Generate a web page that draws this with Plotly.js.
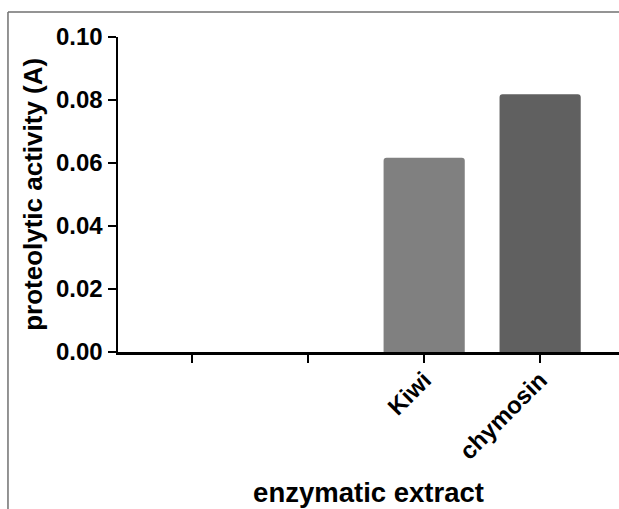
<!DOCTYPE html>
<html>
<head>
<meta charset="utf-8">
<script src="https://cdn.plot.ly/plotly-3.0.1.min.js"></script>
<style>html,body{margin:0;padding:0;background:#fff;}#chart{width:619px;height:509px;}</style>
</head>
<body>
<div id="chart"></div>
<script>
var categories = ["", "", "Kiwi", "chymosin"];
var activity = [null, null, 0.0617, 0.0818];
var barColors = ["#808080", "#808080", "#808080", "#606060"];
var yTickValues = [0, 0.02, 0.04, 0.06, 0.08, 0.10];
var xTitle = "enzymatic extract";
var yTitle = "proteolytic activity (A)";

var xIndex = categories.map(function(c, i){ return i; });

var font = "Arial, 'Liberation Sans', sans-serif";

var trace = {
  type: "bar",
  x: xIndex,
  y: activity,
  width: 0.7,
  marker: {color: barColors, line: {width: 0}, cornerradius: 3},
  hoverinfo: "skip"
};

var layout = {
  width: 619, height: 509,
  margin: {l: 118, r: 0, t: 37, b: 157},
  paper_bgcolor: "#ffffff",
  plot_bgcolor: "#ffffff",
  showlegend: false,
  font: {family: font, color: "#000"},
  xaxis: {
    range: [-0.64, 3.68],
    tickmode: "array",
    tickvals: xIndex,
    ticktext: categories.map(function(c){ return c ? "<b>" + c + "</b>" : ""; }),
    tickangle: -45,
    tickfont: {family: font, size: 24, color: "#000", weight: "bold"},
    ticklabelstandoff: -6,
    showline: true, linecolor: "#000", linewidth: 2.5,
    ticks: "outside", ticklen: 8, tickwidth: 2.5, tickcolor: "#000",
    showgrid: false, zeroline: false,
    title: {text: "<b>" + xTitle + "</b>", font: {family: font, size: 27.5, color: "#000", weight: "bold"}, standoff: 19},
    automargin: false,
    fixedrange: true
  },
  yaxis: {
    range: [0, 0.1],
    tickmode: "array",
    tickvals: yTickValues,
    ticktext: yTickValues.map(function(v){ return "<b>" + v.toFixed(2) + "</b>"; }),
    tickfont: {family: font, size: 24, color: "#000", weight: "bold"},
    showline: true, linecolor: "#000", linewidth: 2.5,
    ticks: "outside", ticklen: 8, tickwidth: 2.5, tickcolor: "#000",
    showgrid: false, zeroline: false,
    title: {text: ""},
    automargin: false,
    fixedrange: true
  },
  annotations: [{
    text: "<b>" + yTitle + "</b>",
    xref: "paper", yref: "paper",
    x: -0.1697, y: 0.502,
    xanchor: "center", yanchor: "middle",
    textangle: -90,
    showarrow: false,
    font: {family: font, size: 26, color: "#000", weight: "bold"}
  }],
  shapes: [
    {type: "line", xref: "paper", yref: "paper", x0: -0.2196, x1: -0.2196, y0: 1.0794, y1: -0.6, line: {color: "#707070", width: 1.5}},
    {type: "line", xref: "paper", yref: "paper", x0: -0.2196, x1: 1.05, y0: 1.0794, y1: 1.0794, line: {color: "#707070", width: 1.5}}
  ]
};

Plotly.newPlot("chart", [trace], layout, {displayModeBar: false, staticPlot: true});
</script>
</body>
</html>
